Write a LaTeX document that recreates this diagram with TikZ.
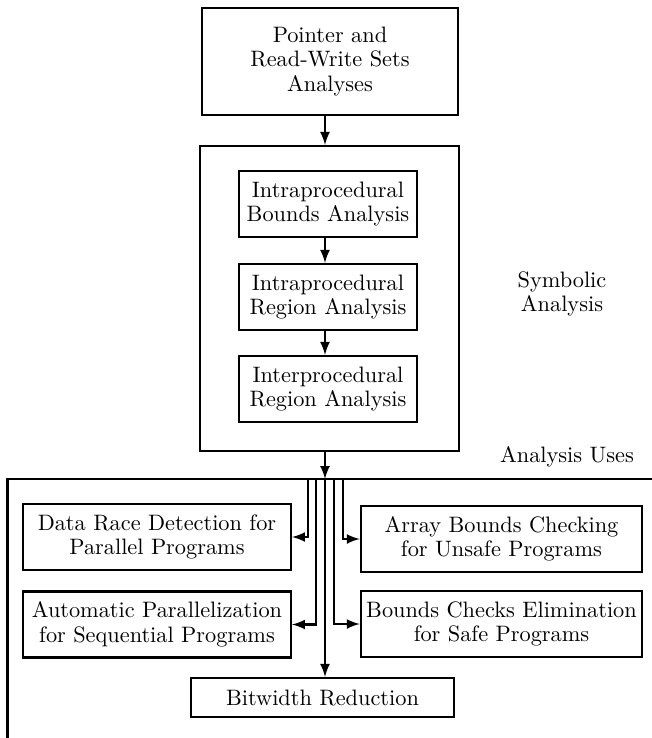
\documentclass[tikz,border=0pt]{standalone}
\usetikzlibrary{shapes,arrows,positioning}

\begin{document}
\begin{tikzpicture}[x=0.448pt, y=-0.448pt, line width=1pt,
  box/.style={draw, align=center, inner sep=0pt, font=\fontsize{10}{11}\selectfont},
  tag/.style={align=center, font=\fontsize{10}{11}\selectfont}]
\useasboundingbox (0,0) rectangle (652,738);

% Pointer analyses
\node[box, minimum width=115pt, minimum height=48pt] (pointer) at (330,61.5) {Pointer and\\Read-Write Sets\\Analyses};

% Symbolic analysis
\node[draw, minimum width=116pt, minimum height=136.6pt] (symbolic) at (329.5,298.5) {};
\node[tag] (symtag) at (562,294) {Symbolic\\Analysis};
\node[box, minimum width=79.7pt, minimum height=29.6pt] (intrabounds) at (328,204) {Intraprocedural\\Bounds Analysis};
\node[box, minimum width=79.7pt, minimum height=29.6pt] (intraregion) at (328,297) {Intraprocedural\\Region Analysis};
\node[box, minimum width=79.7pt, minimum height=29.6pt] (interregion) at (328,389) {Interprocedural\\Region Analysis};

% Arrows
\coordinate (spine) at (325,0);
\draw[-latex] (pointer.south -| spine) -- (symbolic.north -| spine);
\draw[-latex] (intrabounds.south -| spine) -- (intraregion.north -| spine);
\draw[-latex] (intraregion.south -| spine) -- (interregion.north -| spine);

% Analysis uses
\coordinate (usescorner) at (7.5,479);
\draw (7.5,738) -- (usescorner) -- (652,479);
\node[tag] (usestag) at (567,457) {Analysis Uses};
\draw[-latex] (symbolic.south -| spine) -- (spine |- usescorner);

\node[box, minimum width=120pt, minimum height=29.6pt] (race) at (157,537) {Data Race Detection for\\Parallel Programs};
\node[box, minimum width=120pt, minimum height=29.6pt] (autopar) at (157,624.5) {Automatic Parallelization\\for Sequential Programs};
\node[box, minimum width=126pt, minimum height=29.6pt] (arraycheck) at (501.5,539) {Array Bounds Checking\\for Unsafe Programs};
\node[box, minimum width=126pt, minimum height=29.6pt] (checkelim) at (501.5,624) {Bounds Checks Elimination\\for Safe Programs};
\node[box, minimum width=118pt, minimum height=17.5pt] (bitwidth) at (322.5,697.5) {Bitwidth Reduction};

% Branches
\coordinate (branchA) at (308,479);
\coordinate (branchB) at (316,479);
\coordinate (branchC) at (334,479);
\coordinate (branchD) at (343,479);
\draw[-latex] (branchA) |- (race.east);
\draw[-latex] (branchB) |- (autopar.east);
\draw[-latex] (spine |- usescorner) -- (bitwidth.north -| spine);
\draw[-latex] (branchC) |- (checkelim.west);
\draw[-latex] (branchD) |- (arraycheck.west);
\end{tikzpicture}
\end{document}
